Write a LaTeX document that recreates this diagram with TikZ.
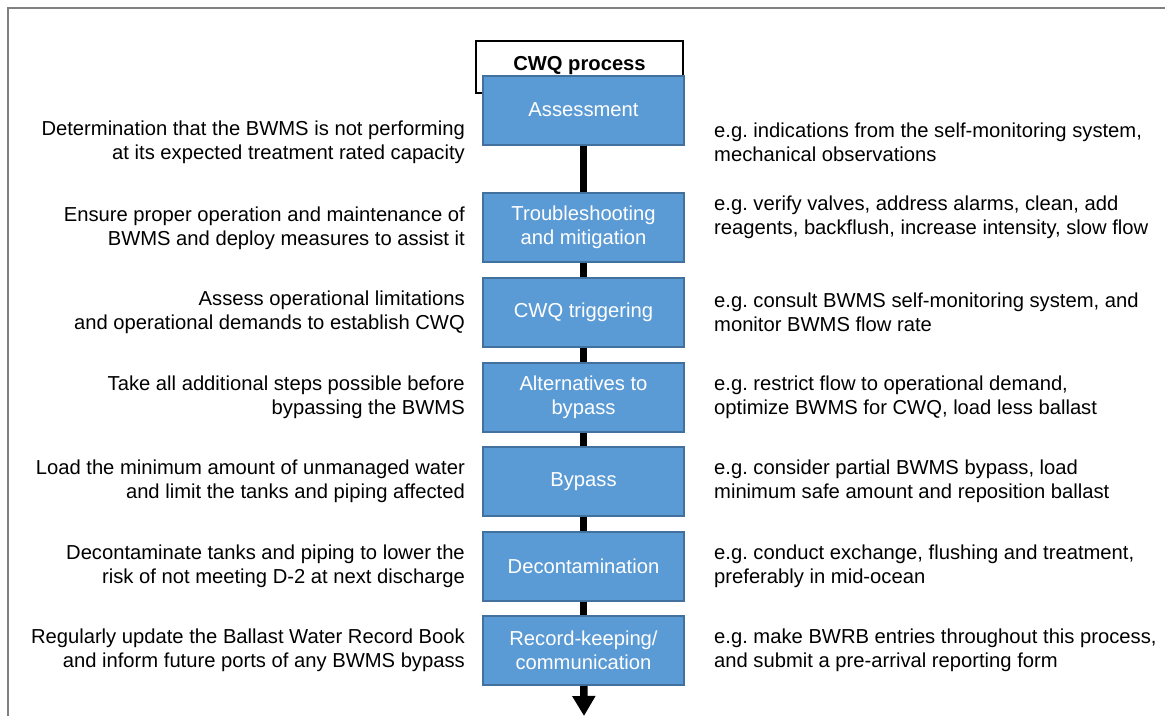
\documentclass[tikz,border=0pt]{standalone}
\usepackage{fontspec}
\setmainfont{Liberation Sans}
\usetikzlibrary{arrows.meta}
\definecolor{stepblue}{HTML}{5B9BD5}
\definecolor{stepedge}{HTML}{41719C}
\newcommand{\notefont}{\fontsize{20.2}{24}\selectfont\frenchspacing}
\tikzset{stepbox/.style={draw=stepedge,line width=2pt,fill=stepblue,text=white,align=center,minimum width=201pt,minimum height=69pt,inner sep=0pt,font=\notefont},
leftnote/.style={anchor=east,align=right,inner sep=0pt,font=\notefont},
rightnote/.style={anchor=west,align=left,inner sep=0pt,font=\notefont}}
\begin{document}
\begin{tikzpicture}[line cap=butt,line join=miter,x=1pt,y=-1pt]
\useasboundingbox (0,0) rectangle (1165,716);
\draw[color=gray,line width=1.5pt] (8,716) -- (8,8) -- (1165,8);
\node[draw=black,line width=1.5pt,minimum width=207pt,font=\bfseries\notefont,anchor=north,inner sep=0pt,text height=30pt,text depth=22pt] (cwq) at (579.5,40) {CWQ process};
\coordinate (end) at (584,716);
% process steps
\node[stepbox] (assess) at (583.5,110) {Assessment};
\node[stepbox] (trouble) at (583.5,227.5) {Troubleshooting\\and mitigation};
\node[stepbox] (trigger) at (583.5,312.5) {CWQ triggering};
\node[stepbox] (altern) at (583.5,397.5) {Alternatives to\\bypass};
\node[stepbox] (bypass) at (583.5,481.5) {Bypass};
\node[stepbox] (decon) at (583.5,566) {Decontamination};
\node[stepbox] (record) at (583.5,650.5) {Record-keeping/\\communication};
\begin{scope}[line width=7.5pt]
\draw (assess) -- (trouble);
\draw (trouble) -- (trigger);
\draw (trigger) -- (altern);
\draw (altern) -- (bypass);
\draw (bypass) -- (decon);
\draw (decon) -- (record);
\draw[-{Triangle[width=22pt,length=20pt]}] (record) -- (end);
\end{scope}
% left column
\node[leftnote] (lassess) at (465,142) {Determination that the BWMS is not performing\\at its expected treatment rated capacity};
\node[leftnote] (ltrouble) at (465,228) {Ensure proper operation and maintenance of\\BWMS and deploy measures to assist it};
\node[leftnote] (ltrigger) at (465,312) {Assess operational limitations\\and operational demands to establish CWQ};
\node[leftnote] (laltern) at (465,397) {Take all additional steps possible before\\bypassing the BWMS};
\node[leftnote] (lbypass) at (465,481) {Load the minimum amount of unmanaged water\\and limit the tanks and piping affected};
\node[leftnote] (ldecon) at (465,566) {Decontaminate tanks and piping to lower the\\risk of not meeting D-2 at next discharge};
\node[leftnote] (lrecord) at (465,650) {Regularly update the Ballast Water Record Book\\and inform future ports of any BWMS bypass};
% right column
\node[rightnote] (rassess) at (714,142) {e.g. indications from the self-monitoring system,\\mechanical observations};
\node[rightnote] (rtrouble) at (714,217) {e.g. verify valves, address alarms, clean, add\\reagents, backflush, increase intensity, slow flow};
\node[rightnote] (rtrigger) at (714,312) {e.g. consult BWMS self-monitoring system, and\\monitor BWMS flow rate};
\node[rightnote] (raltern) at (714,397) {e.g. restrict flow to operational demand,\\optimize BWMS for CWQ, load less ballast};
\node[rightnote] (rbypass) at (714,481) {e.g. consider partial BWMS bypass, load\\minimum safe amount and reposition ballast};
\node[rightnote] (rdecon) at (714,566) {e.g. conduct exchange, flushing and treatment,\\preferably in mid-ocean};
\node[rightnote] (rrecord) at (714,650) {e.g. make BWRB entries throughout this process,\\and submit a pre-arrival reporting form};
\end{tikzpicture}
\end{document}
